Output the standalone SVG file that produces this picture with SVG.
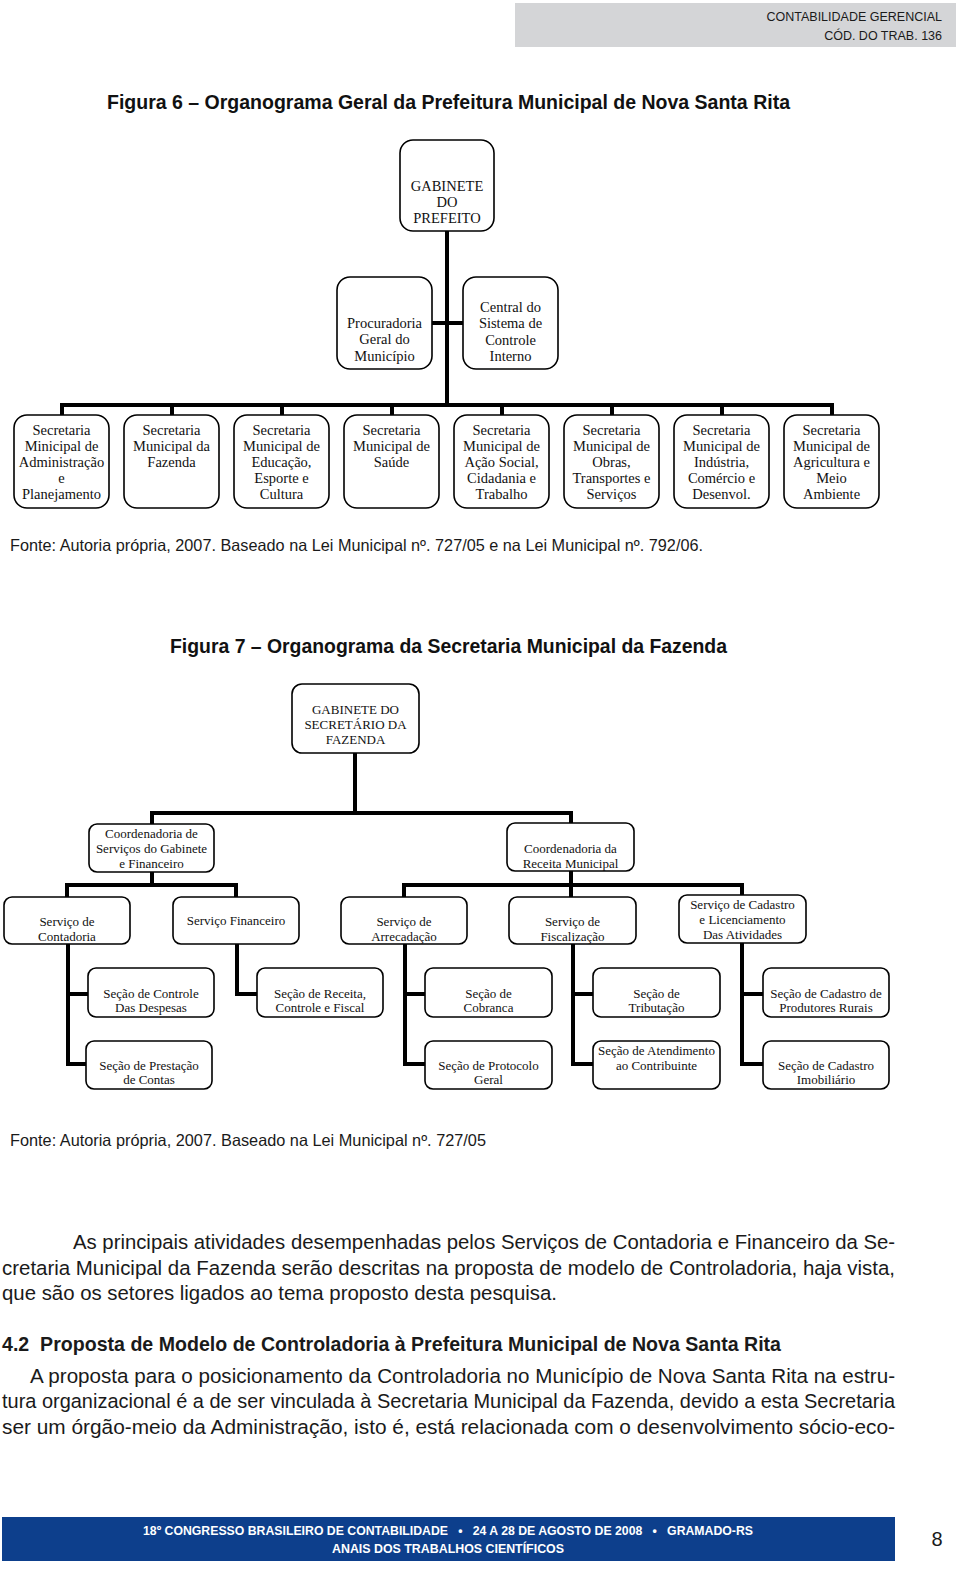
<svg xmlns="http://www.w3.org/2000/svg" width="960" height="1571" viewBox="0 0 960 1571">
<style>
.bx{fill:#fff;stroke:#000;stroke-width:1.6}
.cn{fill:none;stroke:#000;stroke-width:4;stroke-linecap:square;stroke-linejoin:miter}
.t6{font-family:"Liberation Serif","Times New Roman",serif;font-size:14.5px;fill:#111;text-anchor:middle}
.t7{font-family:"Liberation Serif","Times New Roman",serif;font-size:13px;fill:#111;text-anchor:middle}
.sans{font-family:"Liberation Sans",Arial,sans-serif;fill:#1a1a1a}
.ttl{font-family:"Liberation Sans",Arial,sans-serif;font-weight:bold;font-size:20px;fill:#111}
.src{font-family:"Liberation Sans",Arial,sans-serif;font-size:16.5px;fill:#1a1a1a}
.body{font-family:"Liberation Sans",Arial,sans-serif;font-size:20.5px;fill:#1a1a1a}
.foot{font-family:"Liberation Sans",Arial,sans-serif;font-weight:bold;font-size:12.5px;fill:#fff;text-anchor:middle}
</style>
<rect x="0" y="0" width="960" height="1571" fill="#fff"/>

<!-- header -->
<g id="header">
<rect x="515" y="3" width="441" height="44" fill="#d4d5d7"/>
<text class="sans" x="942" y="21" font-size="12.5" text-anchor="end" fill="#333">CONTABILIDADE GERENCIAL</text>
<text class="sans" x="942" y="40" font-size="12.5" text-anchor="end" fill="#333">CÓD. DO TRAB. 136</text>
</g>

<text class="ttl" x="107" y="109" textLength="683" lengthAdjust="spacingAndGlyphs">Figura 6 – Organograma Geral da Prefeitura Municipal de Nova Santa Rita</text>

<!-- Figure 6 connectors -->
<g id="connectors-fig6">
<path class="cn" d="M447 231 V405"/>
<path class="cn" d="M432 323 H463"/>
<path class="cn" d="M62 405 H832"/>
<path class="cn" d="M62 405 V415 M172 405 V415 M282 405 V415 M392 405 V415 M502 405 V415 M612 405 V415 M722 405 V415 M832 405 V415"/>
</g>

<g id="gabinete-prefeito">
<rect class="bx" x="400" y="140" width="94" height="91" rx="13"/>
<text class="t6" x="447" y="191">GABINETE</text>
<text class="t6" x="447" y="207">DO</text>
<text class="t6" x="447" y="223">PREFEITO</text>
</g>
<g id="procuradoria">
<rect class="bx" x="337" y="277" width="95" height="92" rx="13"/>
<text class="t6" x="384.5" y="328">Procuradoria</text>
<text class="t6" x="384.5" y="344">Geral do</text>
<text class="t6" x="384.5" y="361">Município</text>
</g>
<g id="controle-interno">
<rect class="bx" x="463" y="277" width="95" height="92" rx="13"/>
<text class="t6" x="510.5" y="312">Central do</text>
<text class="t6" x="510.5" y="328">Sistema de</text>
<text class="t6" x="510.5" y="345">Controle</text>
<text class="t6" x="510.5" y="361">Interno</text>
</g>

<g id="sec-administracao">
<rect class="bx" x="14" y="415" width="95" height="93" rx="13"/>
<text class="t6" x="61.5" y="435">Secretaria</text>
<text class="t6" x="61.5" y="451">Minicipal de</text>
<text class="t6" x="61.5" y="467">Administração</text>
<text class="t6" x="61.5" y="483">e</text>
<text class="t6" x="61.5" y="499">Planejamento</text>
</g>
<g id="sec-fazenda">
<rect class="bx" x="124" y="415" width="95" height="93" rx="13"/>
<text class="t6" x="171.5" y="435">Secretaria</text>
<text class="t6" x="171.5" y="451">Municipal da</text>
<text class="t6" x="171.5" y="467">Fazenda</text>
</g>
<g id="sec-educacao">
<rect class="bx" x="234" y="415" width="95" height="93" rx="13"/>
<text class="t6" x="281.5" y="435">Secretaria</text>
<text class="t6" x="281.5" y="451">Municipal de</text>
<text class="t6" x="281.5" y="467">Educação,</text>
<text class="t6" x="281.5" y="483">Esporte e</text>
<text class="t6" x="281.5" y="499">Cultura</text>
</g>
<g id="sec-saude">
<rect class="bx" x="344" y="415" width="95" height="93" rx="13"/>
<text class="t6" x="391.5" y="435">Secretaria</text>
<text class="t6" x="391.5" y="451">Municipal de</text>
<text class="t6" x="391.5" y="467">Saúde</text>
</g>
<g id="sec-acao-social">
<rect class="bx" x="454" y="415" width="95" height="93" rx="13"/>
<text class="t6" x="501.5" y="435">Secretaria</text>
<text class="t6" x="501.5" y="451">Municipal de</text>
<text class="t6" x="501.5" y="467">Ação Social,</text>
<text class="t6" x="501.5" y="483">Cidadania e</text>
<text class="t6" x="501.5" y="499">Trabalho</text>
</g>
<g id="sec-obras">
<rect class="bx" x="564" y="415" width="95" height="93" rx="13"/>
<text class="t6" x="611.5" y="435">Secretaria</text>
<text class="t6" x="611.5" y="451">Municipal de</text>
<text class="t6" x="611.5" y="467">Obras,</text>
<text class="t6" x="611.5" y="483">Transportes e</text>
<text class="t6" x="611.5" y="499">Serviços</text>
</g>
<g id="sec-industria">
<rect class="bx" x="674" y="415" width="95" height="93" rx="13"/>
<text class="t6" x="721.5" y="435">Secretaria</text>
<text class="t6" x="721.5" y="451">Municipal de</text>
<text class="t6" x="721.5" y="467">Indústria,</text>
<text class="t6" x="721.5" y="483">Comércio e</text>
<text class="t6" x="721.5" y="499">Desenvol.</text>
</g>
<g id="sec-agricultura">
<rect class="bx" x="784" y="415" width="95" height="93" rx="13"/>
<text class="t6" x="831.5" y="435">Secretaria</text>
<text class="t6" x="831.5" y="451">Municipal de</text>
<text class="t6" x="831.5" y="467">Agricultura e</text>
<text class="t6" x="831.5" y="483">Meio</text>
<text class="t6" x="831.5" y="499">Ambiente</text>
</g>

<text class="src" x="10" y="551" textLength="693" lengthAdjust="spacingAndGlyphs">Fonte: Autoria própria, 2007. Baseado na Lei Municipal nº. 727/05 e na Lei Municipal nº. 792/06.</text>

<text class="ttl" x="170" y="653" textLength="557" lengthAdjust="spacingAndGlyphs">Figura 7 – Organograma da Secretaria Municipal da Fazenda</text>

<!-- Figure 7 connectors -->
<g id="connectors-fig7">
<path class="cn" d="M355 753 V813"/>
<path class="cn" d="M152 813 H571"/>
<path class="cn" d="M152 813 V824 M571 813 V823"/>
<path class="cn" d="M152 872 V885"/>
<path class="cn" d="M67 885 H236"/>
<path class="cn" d="M67 885 V897 M236 885 V897"/>
<path class="cn" d="M571 871 V897"/>
<path class="cn" d="M404 885 H742"/>
<path class="cn" d="M404 885 V897 M742 885 V895"/>
<path class="cn" d="M68 944 V1064 H86 M68 994 H88"/>
<path class="cn" d="M237 944 V994 H257"/>
<path class="cn" d="M405 944 V1064 H425 M405 994 H425"/>
<path class="cn" d="M573 944 V1064 H593 M573 994 H593"/>
<path class="cn" d="M742 943 V1064 H763 M742 994 H763"/>
</g>

<g id="gabinete-secretario">
<rect class="bx" x="292" y="684" width="127" height="69" rx="10"/>
<text class="t7" x="355.5" y="714">GABINETE DO</text>
<text class="t7" x="355.5" y="729">SECRETÁRIO DA</text>
<text class="t7" x="355.5" y="744">FAZENDA</text>
</g>
<g id="coord-servicos">
<rect class="bx" x="89" y="824" width="125" height="48" rx="8"/>
<text class="t7" x="151.5" y="838">Coordenadoria de</text>
<text class="t7" x="151.5" y="853">Serviços do Gabinete</text>
<text class="t7" x="151.5" y="868">e Financeiro</text>
</g>
<g id="coord-receita">
<rect class="bx" x="507" y="823" width="127" height="48" rx="8"/>
<text class="t7" x="570.5" y="853">Coordenadoria da</text>
<text class="t7" x="570.5" y="868">Receita Municipal</text>
</g>

<g id="serv-contadoria">
<rect class="bx" x="4" y="897" width="126" height="47" rx="8"/>
<text class="t7" x="67" y="926">Serviço de</text>
<text class="t7" x="67" y="941">Contadoria</text>
</g>
<g id="serv-financeiro">
<rect class="bx" x="173" y="897" width="126" height="47" rx="8"/>
<text class="t7" x="236" y="925">Serviço Financeiro</text>
</g>
<g id="serv-arrecadacao">
<rect class="bx" x="341" y="897" width="126" height="47" rx="8"/>
<text class="t7" x="404" y="926">Serviço de</text>
<text class="t7" x="404" y="941">Arrecadação</text>
</g>
<g id="serv-fiscalizacao">
<rect class="bx" x="509" y="897" width="127" height="47" rx="8"/>
<text class="t7" x="572.5" y="926">Serviço de</text>
<text class="t7" x="572.5" y="941">Fiscalização</text>
</g>
<g id="serv-cadastro">
<rect class="bx" x="679" y="895" width="127" height="48" rx="8"/>
<text class="t7" x="742.5" y="909">Serviço de Cadastro</text>
<text class="t7" x="742.5" y="924">e Licenciamento</text>
<text class="t7" x="742.5" y="939">Das Atividades</text>
</g>

<g id="sec-controle-despesas">
<rect class="bx" x="88" y="968" width="126" height="49" rx="8"/>
<text class="t7" x="151" y="998">Seção de Controle</text>
<text class="t7" x="151" y="1012">Das Despesas</text>
</g>
<g id="sec-receita-controle">
<rect class="bx" x="257" y="968" width="126" height="49" rx="8"/>
<text class="t7" x="320" y="998">Seção de Receita,</text>
<text class="t7" x="320" y="1012">Controle e Fiscal</text>
</g>
<g id="sec-cobranca">
<rect class="bx" x="425" y="968" width="127" height="49" rx="8"/>
<text class="t7" x="488.5" y="998">Seção de</text>
<text class="t7" x="488.5" y="1012">Cobranca</text>
</g>
<g id="sec-tributacao">
<rect class="bx" x="593" y="968" width="127" height="49" rx="8"/>
<text class="t7" x="656.5" y="998">Seção de</text>
<text class="t7" x="656.5" y="1012">Tributação</text>
</g>
<g id="sec-produtores-rurais">
<rect class="bx" x="763" y="968" width="126" height="49" rx="8"/>
<text class="t7" x="826" y="998">Seção de Cadastro de</text>
<text class="t7" x="826" y="1012">Produtores Rurais</text>
</g>

<g id="sec-prestacao-contas">
<rect class="bx" x="86" y="1041" width="126" height="48" rx="8"/>
<text class="t7" x="149" y="1070">Seção de Prestação</text>
<text class="t7" x="149" y="1084">de Contas</text>
</g>
<g id="sec-protocolo">
<rect class="bx" x="425" y="1041" width="127" height="48" rx="8"/>
<text class="t7" x="488.5" y="1070">Seção de Protocolo</text>
<text class="t7" x="488.5" y="1084">Geral</text>
</g>
<g id="sec-atendimento">
<rect class="bx" x="593" y="1041" width="127" height="48" rx="8"/>
<text class="t7" x="656.5" y="1055">Seção de Atendimento</text>
<text class="t7" x="656.5" y="1070">ao Contribuinte</text>
</g>
<g id="sec-imobiliario">
<rect class="bx" x="763" y="1041" width="126" height="48" rx="8"/>
<text class="t7" x="826" y="1070">Seção de Cadastro</text>
<text class="t7" x="826" y="1084">Imobiliário</text>
</g>

<text class="src" x="10" y="1146" textLength="476" lengthAdjust="spacingAndGlyphs">Fonte: Autoria própria, 2007. Baseado na Lei Municipal nº. 727/05</text>

<!-- body text -->
<g id="body-text">
<text class="body" x="73" y="1249" textLength="822" lengthAdjust="spacingAndGlyphs">As principais atividades desempenhadas pelos Serviços de Contadoria e Financeiro da Se-</text>
<text class="body" x="2" y="1275" textLength="893" lengthAdjust="spacingAndGlyphs">cretaria Municipal da Fazenda serão descritas na proposta de modelo de Controladoria, haja vista,</text>
<text class="body" x="2" y="1300" textLength="555" lengthAdjust="spacingAndGlyphs">que são os setores ligados ao tema proposto desta pesquisa.</text>
<text class="body" x="2" y="1351" font-weight="bold" textLength="779" lengthAdjust="spacingAndGlyphs" xml:space="preserve">4.2  Proposta de Modelo de Controladoria à Prefeitura Municipal de Nova Santa Rita</text>
<text class="body" x="30" y="1383" textLength="865" lengthAdjust="spacingAndGlyphs">A proposta para o posicionamento da Controladoria no Município de Nova Santa Rita na estru-</text>
<text class="body" x="2" y="1408" textLength="893" lengthAdjust="spacingAndGlyphs">tura organizacional é a de ser vinculada à Secretaria Municipal da Fazenda, devido a esta Secretaria</text>
<text class="body" x="2" y="1434" textLength="893" lengthAdjust="spacingAndGlyphs">ser um órgão-meio da Administração, isto é, está relacionada com o desenvolvimento sócio-eco-</text>
</g>

<!-- footer -->
<g id="footer">
<rect x="2" y="1517" width="893" height="44" fill="#0d3f8c"/>
<text class="foot" x="448" y="1535" textLength="610" lengthAdjust="spacingAndGlyphs" xml:space="preserve">18º CONGRESSO BRASILEIRO DE CONTABILIDADE   •   24 A 28 DE AGOSTO DE 2008   •   GRAMADO-RS</text>
<text class="foot" x="448" y="1553" textLength="232" lengthAdjust="spacingAndGlyphs">ANAIS DOS TRABALHOS CIENTÍFICOS</text>
<text class="sans" x="937" y="1546" font-size="20" text-anchor="middle" fill="#222">8</text>
</g>
</svg>
